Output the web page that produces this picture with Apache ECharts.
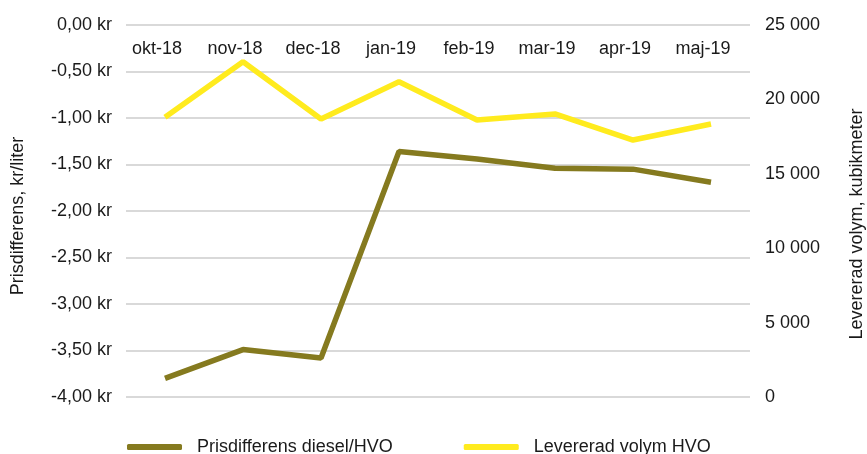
<!DOCTYPE html>
<html>
<head>
<meta charset="utf-8">
<script src="https://cdn.jsdelivr.net/npm/echarts@6/dist/echarts.min.js"></script>
<style>html,body{margin:0;padding:0;background:#fff;}#c{width:867px;height:454px;}</style>
</head>
<body>
<div id="c"></div>
<script>
const categories = ['okt-18','nov-18','dec-18','jan-19','feb-19','mar-19','apr-19','maj-19'];
const prisdifferens = [-3.80, -3.49, -3.58, -1.36, -1.44, -1.54, -1.55, -1.69];
const volym = [18800, 22530, 18680, 21190, 18620, 19020, 17270, 18350];
const seriesNames = ['Prisdifferens diesel/HVO', 'Levererad volym HVO'];
const leftAxisName = 'Prisdifferens, kr/liter';
const rightAxisName = 'Levererad volym, kubikmeter';

const FONT = 'Liberation Sans, Arial, sans-serif';
const FS = 18;
const TXT = '#1a1a1a';
const chart = echarts.init(document.getElementById('c'), null, {renderer: 'canvas'});
chart.setOption({
  animation: false,
  textStyle: {fontFamily: FONT},
  grid: {left: 126, right: 117, top: 25, bottom: 57, containLabel: false, outerBoundsMode: 'none'},
  legend: {
    left: 127, top: 438, padding: 0, itemGap: 71, itemWidth: 55, itemHeight: 6,
    icon: 'roundRect',
    textStyle: {fontFamily: FONT, fontSize: FS, color: TXT, padding: [0,0,0,10]},
    data: seriesNames
  },
  xAxis: {
    type: 'category', data: categories, position: 'top', boundaryGap: true,
    axisLine: {show: false}, axisTick: {show: false},
    axisLabel: {inside: true, margin: 15, fontSize: FS, color: TXT, fontFamily: FONT, padding: [0, 16, 0, 0]}
  },
  yAxis: [{
    type: 'value', min: -4, max: 0, interval: 0.5,
    name: leftAxisName, nameLocation: 'middle', nameGap: 99, nameRotate: 90,
    nameTextStyle: {fontSize: FS, color: TXT, fontFamily: FONT, padding: [0, 10, 0, 0]},
    axisLine: {show: false}, axisTick: {show: false},
    axisLabel: {margin: 14, fontSize: FS, color: TXT, fontFamily: FONT,
      formatter: v => v.toFixed(2).replace('.', ',') + ' kr'},
    splitLine: {lineStyle: {color: '#d9d9d9', width: 2}}
  }, {
    type: 'value', min: 0, max: 25000, interval: 5000, position: 'right',
    name: rightAxisName, nameLocation: 'middle', nameGap: 98, nameRotate: 90,
    nameTextStyle: {fontSize: FS, color: TXT, fontFamily: FONT, padding: [0, 26, 0, 0]},
    axisLine: {show: false}, axisTick: {show: false},
    axisLabel: {margin: 15, fontSize: FS, color: TXT, fontFamily: FONT,
      formatter: v => String(v).replace(/\B(?=(\d{3})+(?!\d))/g, ' ')},
    splitLine: {show: false}
  }],
  series: [{
    name: seriesNames[0], type: 'line', yAxisIndex: 0, data: prisdifferens,
    symbol: 'none', lineStyle: {color: '#857a1f', width: 5.5}, itemStyle: {color: '#857a1f'}
  }, {
    name: seriesNames[1], type: 'line', yAxisIndex: 1, data: volym,
    symbol: 'none', lineStyle: {color: '#ffeb1e', width: 5.5}, itemStyle: {color: '#ffeb1e'}
  }]
});
</script>
</body>
</html>
